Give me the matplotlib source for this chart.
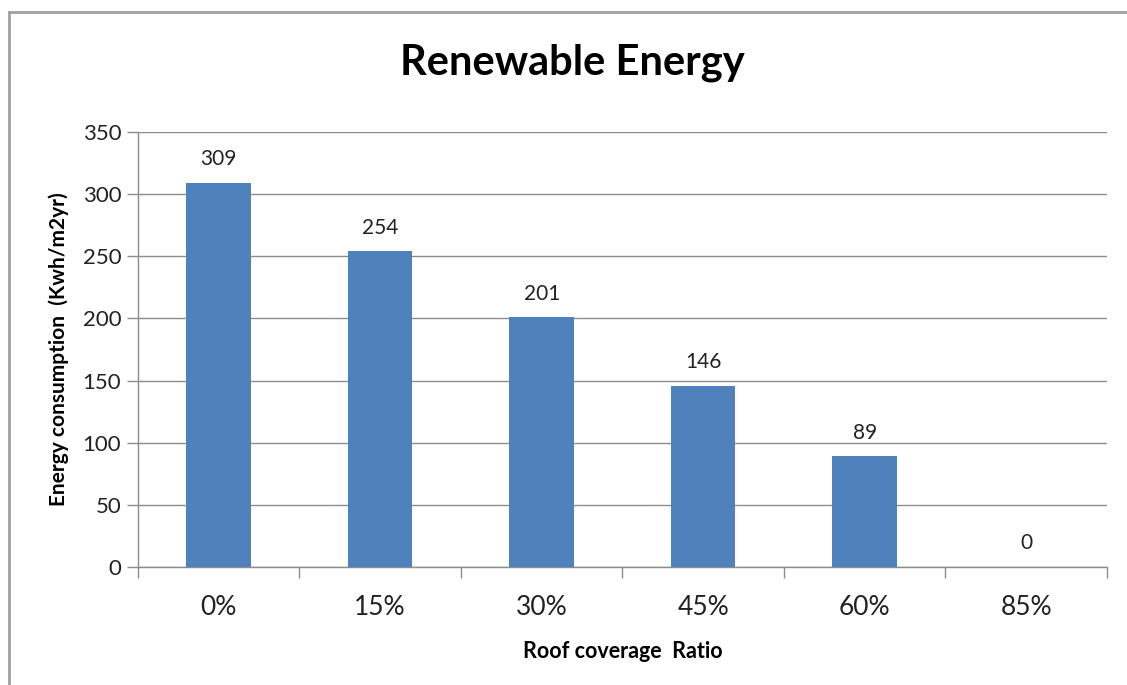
import matplotlib.pyplot as plt
from matplotlib.lines import Line2D

plt.rcParams['font.family'] = ['Lato', 'DejaVu Sans']

ratios = ['0%', '15%', '30%', '45%', '60%', '85%']
consumption = [309, 254, 201, 146, 89, 0]

grid_col = '#8c8c8c'
bar_col = '#4f81bd'

fig = plt.figure(figsize=(11.27, 6.85), dpi=100)
ax = fig.add_axes([0.1224, 0.1723, 0.8598, 0.635])

x = list(range(len(ratios)))
ax.bar(x, consumption, width=0.4, color=bar_col, zorder=3)
for xi, v in zip(x, consumption):
    ax.text(xi, v + 11, str(v), ha='center', va='bottom', fontsize=15, color='#222222')

ax.set_xlim(-0.5, len(ratios) - 0.5)
ax.set_ylim(0, 350)
ax.set_yticks(range(0, 351, 50))
ax.yaxis.grid(True, color=grid_col, linewidth=1)
ax.set_axisbelow(True)

# category labels centred, tick marks on the boundaries
ax.set_xticks(x)
ax.set_xticklabels(ratios, fontsize=19, color='#222222')
ax.tick_params(axis='x', length=0, pad=20)
ax.set_xticks([i - 0.5 for i in range(len(ratios) + 1)], minor=True)
ax.tick_params(axis='x', which='minor', length=8, color=grid_col, width=1)
ax.tick_params(axis='y', length=8, color=grid_col, width=1, labelsize=16,
               labelcolor='#222222', pad=4)

for side in ['top', 'right']:
    ax.spines[side].set_visible(False)
for side in ['left', 'bottom']:
    ax.spines[side].set_color(grid_col)
    ax.spines[side].set_linewidth(1)

ax.set_xlabel('Roof coverage  Ratio', fontsize=15.5, fontweight='bold', labelpad=15)
ax.set_ylabel('Energy consumption  (Kwh/m2yr)', fontsize=15, fontweight='bold', labelpad=10)
fig.text(0.508, 0.908, 'Renewable Energy', ha='center', va='center',
         fontsize=30, fontweight='bold')

# chart frame, left and top edges
fig.add_artist(Line2D([0.008, 0.008], [0, 0.983], color='#a0a0a0', linewidth=2))
fig.add_artist(Line2D([0.008, 1.0], [0.983, 0.983], color='#a0a0a0', linewidth=2))

fig.savefig('out.png', dpi=100)
